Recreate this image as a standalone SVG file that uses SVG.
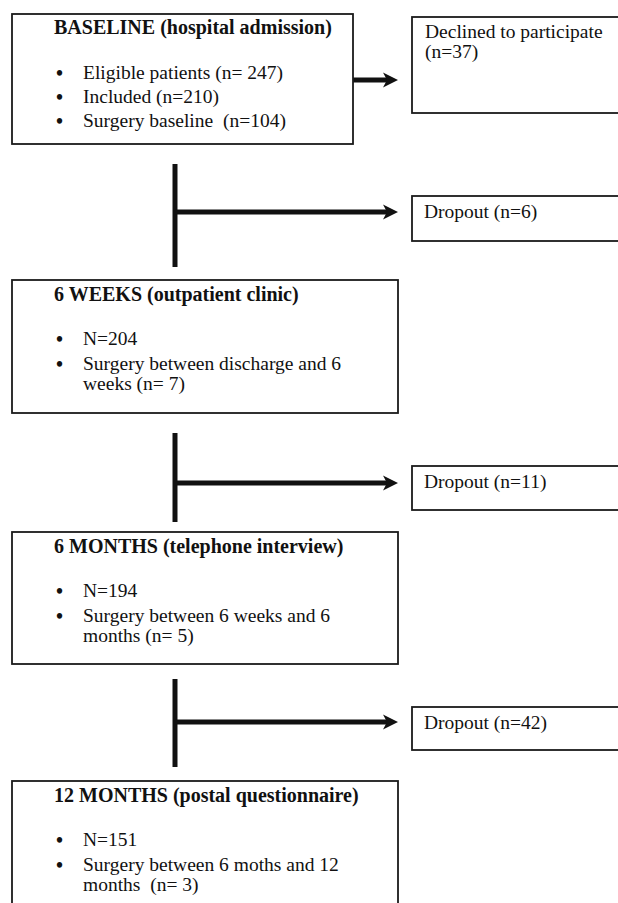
<svg xmlns="http://www.w3.org/2000/svg" width="618" height="903" viewBox="0 0 618 903">
  <style>
    text { font-family: "Liberation Serif", "Times New Roman", serif; font-size: 19.5px; fill: #111; white-space: pre; }
    .title { font-weight: bold; font-size: 20px; }
    .bul { font-size: 20px; font-weight: bold; }
    .box { fill: #fff; stroke: #1a1a1a; stroke-width: 1.8; }
    .conn { stroke: #111; stroke-width: 5; fill: none; }
    .arrow { stroke: #111; stroke-width: 5; fill: none; marker-end: url(#head); }
  </style>
  <defs>
    <marker id="head" markerUnits="userSpaceOnUse" markerWidth="16" markerHeight="16" refX="7" refY="7.5" orient="auto" overflow="visible">
      <path d="M0,0 L15,7.5 L0,15 L4,7.5 Z" fill="#111"/>
    </marker>
  </defs>
  <rect width="618" height="903" fill="#fff"/>

  <g id="connectors">
    <line class="arrow" x1="353" y1="80" x2="390" y2="80"/>
    <line class="conn" x1="175" y1="164" x2="175" y2="267"/>
    <line class="arrow" x1="175" y1="212" x2="390" y2="212"/>
    <line class="conn" x1="175" y1="433" x2="175" y2="522"/>
    <line class="arrow" x1="175" y1="483" x2="390" y2="483"/>
    <line class="conn" x1="175" y1="679" x2="175" y2="767"/>
    <line class="arrow" x1="175" y1="722" x2="390" y2="722"/>
  </g>

  <g id="baseline">
    <rect class="box" x="12" y="14" width="341" height="130"/>
    <text class="title" x="54" y="34">BASELINE (hospital admission)</text>
    <text class="bul" x="56" y="80">•</text><text x="83" y="79">Eligible patients (n= 247)</text>
    <text class="bul" x="56" y="104">•</text><text x="83" y="103">Included (n=210)</text>
    <text class="bul" x="56" y="128">•</text><text x="83" y="127">Surgery baseline  (n=104)</text>
  </g>

  <g id="declined">
    <rect class="box" x="412" y="17" width="220" height="96"/>
    <text x="425" y="38">Declined to participate</text>
    <text x="425" y="58">(n=37)</text>
  </g>

  <g id="dropout1">
    <rect class="box" x="412" y="196" width="220" height="45"/>
    <text x="424" y="218">Dropout (n=6)</text>
  </g>

  <g id="weeks6">
    <rect class="box" x="12" y="280" width="386" height="133"/>
    <text class="title" x="54" y="301">6 WEEKS (outpatient clinic)</text>
    <text class="bul" x="56" y="346">•</text><text x="83" y="345">N=204</text>
    <text class="bul" x="56" y="371">•</text><text x="83" y="370">Surgery between discharge and 6</text>
    <text x="83" y="390">weeks (n= 7)</text>
  </g>

  <g id="dropout2">
    <rect class="box" x="412" y="466" width="220" height="44"/>
    <text x="424" y="488">Dropout (n=11)</text>
  </g>

  <g id="months6">
    <rect class="box" x="12" y="532" width="386" height="132"/>
    <text class="title" x="54" y="553">6 MONTHS (telephone interview)</text>
    <text class="bul" x="56" y="598">•</text><text x="83" y="597">N=194</text>
    <text class="bul" x="56" y="623">•</text><text x="83" y="622">Surgery between 6 weeks and 6</text>
    <text x="83" y="642">months (n= 5)</text>
  </g>

  <g id="dropout3">
    <rect class="box" x="412" y="707" width="220" height="43"/>
    <text x="424" y="729">Dropout (n=42)</text>
  </g>

  <g id="months12">
    <rect class="box" x="12" y="781" width="386" height="134"/>
    <text class="title" x="54" y="802">12 MONTHS (postal questionnaire)</text>
    <text class="bul" x="56" y="847">•</text><text x="83" y="846">N=151</text>
    <text class="bul" x="56" y="872">•</text><text x="83" y="871">Surgery between 6 moths and 12</text>
    <text x="83" y="891">months  (n= 3)</text>
  </g>
</svg>
